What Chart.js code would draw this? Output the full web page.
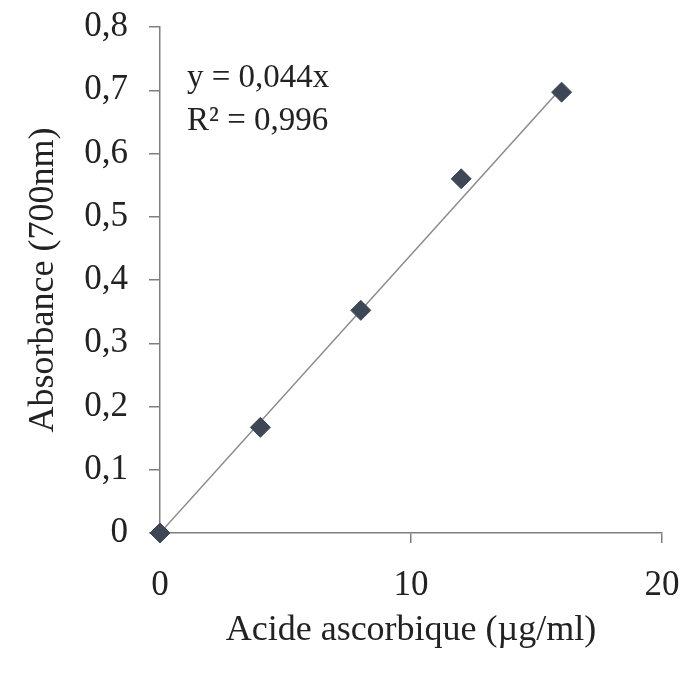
<!DOCTYPE html>
<html>
<head>
<meta charset="utf-8">
<script src="https://cdn.jsdelivr.net/npm/chart.js@4/dist/chart.umd.min.js"></script>
<style>
  html, body { margin: 0; padding: 0; background: #fff; }
  #wrap { width: 686px; height: 677px; }
</style>
</head>
<body>
<div id="wrap"><canvas id="myChart" width="686" height="677"></canvas></div>
<script>
// données
const concentrations = [0, 4, 8, 12, 16];
const absorbances = [0, 0.167, 0.352, 0.560, 0.697];
const trendX = [0, 16];
const trendY = [0, 0.704];
const yTickLabels = ['0', '0,1', '0,2', '0,3', '0,4', '0,5', '0,6', '0,7', '0,8'];
const xTickLabels = ['0', '10', '20'];
const equationLines = ['y = 0,044x', 'R\u00B2 = 0,996'];

const serif = "'Liberation Serif', 'Times New Roman', serif";

// texte de l'équation en haut à gauche
const equationPlugin = {
    id: 'equation',
    afterDraw(chart) {
        const ctx = chart.ctx;
        ctx.save();
        ctx.font = '33px ' + serif;
        ctx.fillStyle = '#222';
        ctx.textBaseline = 'alphabetic';
        ctx.fillText(equationLines[0], 187, 87);
        ctx.fillText(equationLines[1], 187, 130);
        ctx.restore();
    }
};

const ctx = document.getElementById('myChart').getContext('2d');
const myChart = new Chart(ctx, {
    type: 'scatter',
    data: {
        datasets: [{
            label: 'Absorbance',
            data: concentrations.map((x, i) => ({ x: x, y: absorbances[i] })),
            pointStyle: 'rectRot',
            pointRadius: 10,
            backgroundColor: '#3e4756',
            borderColor: '#3e4756',
            clip: false,
            order: 0
        }, {
            label: 'Tendance',
            data: trendX.map((x, i) => ({ x: x, y: trendY[i] })),
            showLine: true,
            pointRadius: 0,
            borderColor: '#8a8a8a',
            borderWidth: 1.5,
            order: 1
        }]
    },
    options: {
        responsive: false,
        animation: false,
        layout: { padding: { top: 27, right: 24, left: 0, bottom: 0 } },
        plugins: {
            legend: { display: false },
            tooltip: { enabled: false }
        },
        scales: {
            x: {
                type: 'linear',
                min: 0,
                max: 20,
                afterFit: scale => {
                    scale.height = 144;
                    scale.paddingLeft = 0;
                    scale.paddingRight = 0;
                },
                ticks: {
                    stepSize: 10,
                    padding: 22,
                    maxRotation: 0,
                    color: '#222',
                    font: { family: serif, size: 35 },
                    callback: (value, index) => xTickLabels[index]
                },
                grid: { drawOnChartArea: false, tickLength: 10, color: '#7f7f7f', lineWidth: 1.5 },
                border: { color: '#7f7f7f', width: 1.5 },
                title: {
                    display: true,
                    text: 'Acide ascorbique (\u00B5g/ml)',
                    color: '#222',
                    font: { family: serif, size: 36 },
                    padding: { top: 0, bottom: 25 }
                }
            },
            y: {
                type: 'linear',
                min: 0,
                max: 0.8,
                afterFit: scale => {
                    scale.width = 160;
                    scale.paddingTop = 0;
                    scale.paddingBottom = 0;
                },
                ticks: {
                    stepSize: 0.1,
                    padding: 21,
                    color: '#222',
                    font: { family: serif, size: 35 },
                    callback: (value, index) => yTickLabels[index]
                },
                grid: { drawOnChartArea: false, tickLength: 11, color: '#7f7f7f', lineWidth: 1.5 },
                border: { color: '#7f7f7f', width: 1.5 },
                title: {
                    display: true,
                    text: 'Absorbance (700nm)',
                    color: '#222',
                    font: { family: serif, size: 36 },
                    padding: { top: 22, bottom: 0 }
                }
            }
        }
    },
    plugins: [equationPlugin]
});
</script>
</body>
</html>
